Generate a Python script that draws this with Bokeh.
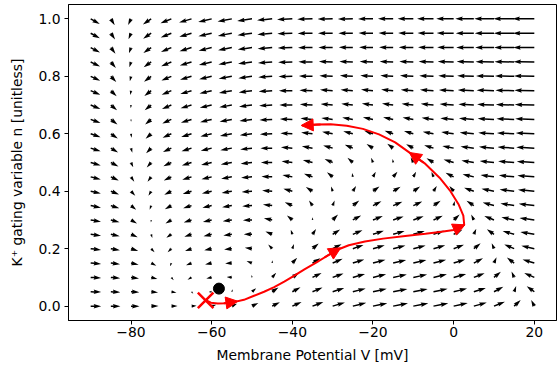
import numpy as np
from bokeh.plotting import figure
from bokeh.models import Range1d, FixedTicker, NumeralTickFormatter, Arrow, NormalHead, ColumnDataSource
from bokeh.embed import file_html
from bokeh.resources import INLINE

# ---- grid of the vector field (mV, unitless) ----
V_GRID = [-90, -85, -80, -75, -70, -65, -60, -55, -50, -45, -40, -35, -30,
          -25, -20, -15, -10, -5, 0, 5, 10, 15, 20]
N_GRID = [0.0, 0.05, 0.1, 0.15, 0.2, 0.25, 0.3, 0.35, 0.4, 0.45, 0.5,
          0.55, 0.6, 0.65, 0.7, 0.75, 0.8, 0.85, 0.9, 0.95, 1.0]

# ---- I_Na,p + I_K model parameters (low-threshold) ----
C_M = 1.0
I_EXT = 0.0
G_L, E_L = 8.0, -78.0
G_NA, E_NA = 20.0, 60.0
G_K, E_K = 10.0, -90.0
M_HALF, M_SLOPE = -20.0, 15.0
N_HALF, N_SLOPE = -45.0, 5.0
TAU_N = 1.0

# ---- trajectory ----
TRAJ_V = [-61.3, -60.2, -58.5, -56.5, -54.5, -52.0, -49.5, -47.0, -44.5, -42.0,
          -39.5, -37.0, -34.0, -31.0, -28.5, -26.0, -22.0, -17.5, -12.0, -7.0,
          -3.0, 0.0, 1.8, 2.6, 2.4, 1.2, -0.8, -3.5, -7.0, -10.5, -14.5, -18.5,
          -22.5, -26.5, -30.5, -34.0, -37.6]
TRAJ_N = [0.020, 0.012, 0.009, 0.010, 0.014, 0.022, 0.036, 0.050, 0.066, 0.085,
          0.106, 0.128, 0.152, 0.178, 0.198, 0.212, 0.225, 0.235, 0.244, 0.252,
          0.259, 0.265, 0.272, 0.285, 0.315, 0.355, 0.400, 0.447, 0.495, 0.530,
          0.570, 0.598, 0.617, 0.628, 0.633, 0.632, 0.629]
HEAD_V0 = [-57.0, -32.0, 0.0, -7.5, -33.0]
HEAD_N0 = [0.010, 0.170, 0.266, 0.500, 0.632]
HEAD_V1 = [-53.5, -28.0, 2.8, -11.0, -37.8]
HEAD_N1 = [0.017, 0.203, 0.283, 0.535, 0.629]

START_V, START_N = [-61.5], [0.020]
REST_V, REST_N = [-58.2], [0.061]

X_TICKS = [-80, -60, -40, -20, 0, 20]
Y_TICKS = [0.0, 0.2, 0.4, 0.6, 0.8, 1.0]

X_RANGE = (-95.5, 25.5)
Y_RANGE = (-0.05, 1.05)

X_LABEL = "Membrane Potential V [mV]"
Y_LABEL = "K\u207a gating variable n [unitless]"

FRAME_W, FRAME_H = 488, 316
FS = "13.9px"
FONT = "DejaVu Sans"

p = figure(frame_width=FRAME_W, frame_height=FRAME_H, output_backend="svg",
           toolbar_location=None, x_range=Range1d(*X_RANGE), y_range=Range1d(*Y_RANGE),
           min_border_left=68, min_border_right=2, min_border_top=4, min_border_bottom=49)
p.grid.visible = False
p.outline_line_color = "black"
p.outline_line_width = 1
p.background_fill_color = "white"
p.border_fill_color = "white"

for ax in (p.xaxis[0], p.yaxis[0]):
    ax.major_tick_out = 4
    ax.major_tick_in = 0
    ax.minor_tick_out = 0
    ax.minor_tick_in = 0
    ax.major_label_text_font = FONT
    ax.major_label_text_font_size = FS
    ax.major_label_text_color = "black"
    ax.axis_line_color = "black"
    ax.major_tick_line_color = "black"
    ax.major_label_standoff = 4
    ax.axis_label_text_font = FONT
    ax.axis_label_text_font_size = FS
    ax.axis_label_text_font_style = "normal"
    ax.axis_label_text_color = "black"

p.xaxis.axis_label = X_LABEL
p.yaxis.axis_label = Y_LABEL
p.xaxis.major_label_standoff = 2
p.xaxis.axis_label_standoff = 7
p.yaxis.axis_label_standoff = 10

p.xaxis.ticker = FixedTicker(ticks=X_TICKS)
p.xaxis.major_label_overrides = {t: (("\u2212" + str(abs(t))) if t < 0 else str(t)) for t in X_TICKS}
p.yaxis.ticker = FixedTicker(ticks=Y_TICKS)
p.yaxis.formatter = NumeralTickFormatter(format="0.0")

# ---- vector field ----
sx = FRAME_W / (X_RANGE[1] - X_RANGE[0])
sy = FRAME_H / (Y_RANGE[1] - Y_RANGE[0])
VV, NN = np.meshgrid(np.array(V_GRID, float), np.array(N_GRID, float))
m_inf = 1.0 / (1.0 + np.exp((M_HALF - VV) / M_SLOPE))
n_inf = 1.0 / (1.0 + np.exp((N_HALF - VV) / N_SLOPE))
dV = (I_EXT - G_L * (VV - E_L) - G_NA * m_inf * (VV - E_NA) - G_K * NN * (VV - E_K)) / C_M
dn = (n_inf - NN) / TAU_N

W = 1.5           # shaft width px
HL, HAL, HW = 5.0, 4.5, 3.0
xs, ys = [], []
for v0, n0, du, dv in zip(VV.ravel(), NN.ravel(), dV.ravel(), dn.ravel()):
    mag = np.hypot(du, dv)
    Lpx = 2.1 * mag ** (1.0 / 3.0)
    Lw = max(Lpx / W, 1.0)
    if Lw >= HL:
        ax_ = [0, Lw - HAL, Lw - HL, Lw, Lw - HL, Lw - HAL, 0]
        ay_ = [0.5, 0.5, HW / 2, 0, -HW / 2, -0.5, -0.5]
    else:
        s = Lw / HL
        ax_ = [s * t for t in [0, HL - HAL, 0, HL, 0, HL - HAL, 0]]
        ay_ = [s * t for t in [0.5, 0.5, HW / 2, 0, -HW / 2, -0.5, -0.5]]
    th = np.arctan2(dv * sy, du * sx)
    c, sn = np.cos(th), np.sin(th)
    px = [W * (a * c - b * sn) for a, b in zip(ax_, ay_)]
    py = [W * (a * sn + b * c) for a, b in zip(ax_, ay_)]
    xs.append([v0 + q / sx for q in px])
    ys.append([n0 + q / sy for q in py])

p.patches(xs=xs, ys=ys, fill_color="black", line_color=None)

# ---- trajectory ----
p.line(TRAJ_V, TRAJ_N, line_color="red", line_width=2)
heads = ColumnDataSource(dict(x0=HEAD_V0, y0=HEAD_N0, x1=HEAD_V1, y1=HEAD_N1))
p.add_layout(Arrow(end=NormalHead(size=12, fill_color="red", line_color="red", line_width=1),
                   x_start="x0", y_start="y0", x_end="x1", y_end="y1",
                   line_color="red", line_width=2, source=heads))
p.scatter(START_V, START_N, marker="x", size=22, line_color="red", line_width=2.5)
p.scatter(REST_V, REST_N, marker="circle", size=11, fill_color="black", line_color="black")

open("out.html", "w").write(file_html(p, INLINE))
